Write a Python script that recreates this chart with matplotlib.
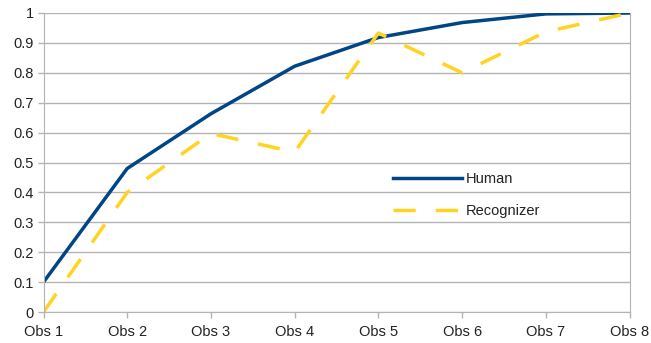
import matplotlib.pyplot as plt

plt.rcParams['font.family'] = ['Liberation Sans', 'DejaVu Sans']

categories = ['Obs 1', 'Obs 2', 'Obs 3', 'Obs 4', 'Obs 5', 'Obs 6', 'Obs 7', 'Obs 8']
human = [0.1, 0.48, 0.663, 0.822, 0.918, 0.968, 0.997, 1.0]
recognizer = [0.0, 0.40, 0.597, 0.535, 0.933, 0.80, 0.937, 1.0]
yticks = [0, 0.1, 0.2, 0.3, 0.4, 0.5, 0.6, 0.7, 0.8, 0.9, 1]

fig = plt.figure(figsize=(6.51, 3.43), dpi=100)
ax = fig.add_axes([43.5 / 651, 31 / 343, 586 / 651, 299 / 343])

x = list(range(len(categories)))
ax.plot(x, human, color='#004586', lw=2.5, label='Human', solid_joinstyle='round')
ax.plot(x, recognizer, color='#ffd320', lw=2.5, label='Recognizer', dashes=(6.4, 5.8))

ax.set_xlim(0, len(categories) - 1)
ax.set_ylim(0, 1)
ax.set_xticks(x)
ax.set_xticklabels(categories)
ax.set_yticks(yticks)
ax.set_yticklabels([f'{v:g}' for v in yticks])
ax.grid(axis='y', color='#b3b3b3', lw=1)
ax.set_axisbelow(True)
for s in ax.spines.values():
    s.set_color('#b3b3b3')
ax.spines['top'].set_visible(False)
ax.tick_params(colors='#b3b3b3', length=4, width=1, labelcolor='#222222', labelsize=10.5)
ax.tick_params(axis='x', pad=5)
ax.tick_params(axis='y', pad=3)

ax.legend(loc='center left', bbox_to_anchor=(393 / 651, 148 / 343),
          bbox_transform=fig.transFigure, frameon=False,
          borderpad=0, borderaxespad=0,
          handlelength=4.7, handletextpad=0.27, labelspacing=1.2,
          fontsize=10.5, labelcolor='#222222')

fig.savefig('out.png', dpi=100)
